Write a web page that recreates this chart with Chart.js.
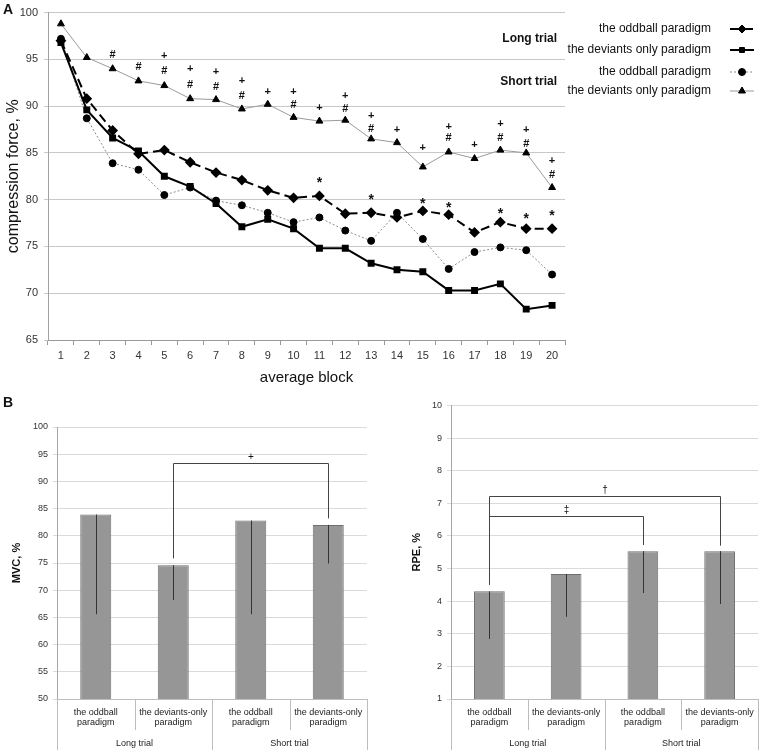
<!DOCTYPE html>
<html>
<head>
<meta charset="utf-8">
<script src="https://cdn.jsdelivr.net/npm/chart.js@4.4.1/dist/chart.umd.min.js"></script>
<style>
body { margin: 0; background: #fff; font-family: "Liberation Sans", Arial, sans-serif; }
#wrap { position: relative; width: 767px; height: 754px; }
canvas { position: absolute; }
.tag { position: absolute; font-weight: bold; font-size: 14px; color: #111; }
</style>
</head>
<body>
<div id="wrap">
  <canvas id="lineChart" width="767" height="395" style="left:0;top:0"></canvas>
  <canvas id="mvcChart" width="383" height="359" style="left:0;top:395px"></canvas>
  <canvas id="rpeChart" width="384" height="359" style="left:383px;top:395px"></canvas>
  <div class="tag" style="left:3px;top:1px">A</div>
  <div class="tag" style="left:3px;top:394px">B</div>
</div>
<script>
// panel A - compression force per block
var blocks = ['1','2','3','4','5','6','7','8','9','10','11','12','13','14','15','16','17','18','19','20'];
var oddballLong   = [97.0, 90.8, 87.4, 84.9, 85.3, 84.0, 82.9, 82.1, 81.0, 80.2, 80.4, 78.5, 78.6, 78.1, 78.8, 78.4, 76.5, 77.6, 76.9, 76.9];
var deviantsLong  = [96.8, 89.6, 86.6, 85.2, 82.5, 81.4, 79.6, 77.1, 77.9, 76.9, 74.8, 74.8, 73.2, 72.5, 72.3, 70.3, 70.3, 71.0, 68.3, 68.7];
var oddballShort  = [97.2, 88.7, 83.9, 83.2, 80.5, 81.3, 79.9, 79.4, 78.6, 77.6, 78.1, 76.7, 75.6, 78.6, 75.8, 72.6, 74.4, 74.9, 74.6, 72.0];
var deviantsShort = [98.8, 95.2, 94.0, 92.7, 92.2, 90.8, 90.7, 89.7, 90.2, 88.8, 88.4, 88.5, 86.5, 86.1, 83.5, 85.1, 84.4, 85.3, 85.0, 81.3];
var forceTicks = [65, 70, 75, 80, 85, 90, 95, 100];

// significance marks: [block, value]
var plusMarks = [[5,95.35],[6,94.0],[7,93.65],[8,92.7],[9,91.55],[10,91.55],[11,89.85],[12,91.1],[13,88.9],[14,87.5],[15,85.5],[16,87.8],[17,85.85],[18,88.1],[19,87.5],[20,84.1]];
var hashMarks = [[3,95.5],[4,94.2],[5,93.75],[6,92.3],[7,92.05],[8,91.1],[10,90.1],[12,89.75],[13,87.6],[16,86.55],[18,86.55],[19,86.0],[20,82.6]];
var starMarks = [[11,82.05],[13,80.3],[15,79.85],[16,79.4],[18,78.75],[19,78.2],[20,78.6]];

// panel B
var conditions = [['the oddball', 'paradigm'], ['the deviants-only', 'paradigm'], ['the oddball', 'paradigm'], ['the deviants-only', 'paradigm']];
var trials = ['Long trial', 'Short trial'];
var mvcMeans = [83.9, 74.6, 82.8, 82.0];
var mvcLow   = [65.6, 68.2, 65.6, 74.9];
var mvcBrackets = [{ from: 1, to: 3, at: 93.4, ends: [75.85, 83.2], mark: '+' }];
var rpeMeans = [4.3, 4.83, 5.53, 5.53];
var rpeLow   = [2.84, 3.52, 4.25, 3.91];
var rpeBrackets = [
  { from: 0, to: 3, at: 7.21, ends: [4.5, 5.7], mark: '\u2020' },
  { from: 0, to: 2, at: 6.61, ends: [4.5, 5.72], mark: '\u2021' }
];

Chart.defaults.font.family = '"Liberation Sans", Arial, sans-serif';
Chart.defaults.color = '#333';
Chart.defaults.animation = false;

var marksPlugin = {
  id: 'marks',
  afterDatasetsDraw: function(chart) {
    var ctx = chart.ctx, x = chart.scales.x, y = chart.scales.y;
    ctx.save();
    ctx.fillStyle = '#111';
    ctx.textAlign = 'center';
    ctx.textBaseline = 'middle';
    function put(list, txt, font, dy) {
      ctx.font = font;
      list.forEach(function(m) {
        ctx.fillText(txt, x.getPixelForValue(m[0] - 1), y.getPixelForValue(m[1]) + dy);
      });
    }
    put(plusMarks, '+', 'bold 11px "Liberation Sans"', 0);
    put(hashMarks, '#', 'bold 11px "Liberation Sans"', 0);
    put(starMarks, '*', 'bold 14px "Liberation Sans"', 3);
    ctx.restore();
  }
};

var sideLegend = {
  id: 'sideLegend',
  afterDraw: function(chart) {
    var ctx = chart.ctx;
    var rows = [29, 50, 72, 91];
    ctx.save();
    ctx.fillStyle = '#111';
    ctx.textBaseline = 'middle';
    ctx.textAlign = 'right';
    ctx.font = 'bold 12px "Liberation Sans"';
    ctx.fillText('Long trial', 557, 39);
    ctx.fillText('Short trial', 557, 82);
    ctx.font = '12px "Liberation Sans"';
    chart.data.datasets.forEach(function(ds, i) {
      var yy = rows[i];
      ctx.fillStyle = '#111';
      ctx.fillText(ds.label, 711, yy);
      ctx.beginPath();
      ctx.strokeStyle = ds.borderColor;
      ctx.lineWidth = ds.borderWidth;
      ctx.setLineDash(ds.borderDash || []);
      ctx.moveTo(730, yy);
      ctx.lineTo(754, yy);
      ctx.stroke();
      ctx.setLineDash([]);
      ctx.fillStyle = '#000';
      ctx.strokeStyle = '#000';
      ctx.lineWidth = 1;
      Chart.helpers.drawPoint(ctx, { pointStyle: ds.pointStyle, radius: ds.pointRadius, rotation: 0, borderWidth: 1 }, 742, yy);
    });
    ctx.restore();
  }
};

new Chart(document.getElementById('lineChart'), {
  type: 'line',
  data: {
    labels: blocks,
    datasets: [{
      label: 'the oddball paradigm',
      data: oddballLong,
      borderColor: '#000',
      borderWidth: 2,
      borderDash: [9, 5],
      pointStyle: 'rectRot',
      pointRadius: 4,
      pointBackgroundColor: '#000',
      pointBorderColor: '#000',
      tension: 0
    }, {
      label: 'the deviants only paradigm',
      data: deviantsLong,
      borderColor: '#000',
      borderWidth: 2,
      pointStyle: 'rect',
      pointRadius: 3.5,
      pointBackgroundColor: '#000',
      pointBorderColor: '#000',
      tension: 0
    }, {
      label: 'the oddball paradigm',
      data: oddballShort,
      borderColor: '#8a8a8a',
      borderWidth: 1,
      borderDash: [2, 2],
      pointStyle: 'circle',
      pointRadius: 3.5,
      pointBackgroundColor: '#000',
      pointBorderColor: '#000',
      tension: 0
    }, {
      label: 'the deviants only paradigm',
      data: deviantsShort,
      borderColor: '#9a9a9a',
      borderWidth: 1,
      pointStyle: 'triangle',
      pointRadius: 4,
      pointBackgroundColor: '#000',
      pointBorderColor: '#000',
      tension: 0
    }]
  },
  options: {
    responsive: false,
    devicePixelRatio: 1,
    layout: { padding: { top: 11, right: 202, left: 0, bottom: 0 } },
    plugins: { legend: { display: false }, tooltip: { enabled: false } },
    scales: {
      x: {
        offset: true,
        afterFit: function(s) { s.height = 55; },
        grid: { offset: true, drawOnChartArea: false, tickLength: 5, color: '#999' },
        border: { color: '#999' },
        ticks: { font: { size: 11 }, padding: 4, maxRotation: 0, autoSkip: false },
        title: { display: true, text: 'average block', font: { size: 15 }, padding: { top: 0, bottom: 8 }, color: '#111' }
      },
      y: {
        min: 65,
        max: 100,
        afterFit: function(s) { s.width = 48; },
        afterBuildTicks: function(s) { s.ticks = forceTicks.map(function(v) { return { value: v }; }); },
        grid: { color: '#c8c8c8', tickLength: 4 },
        border: { color: '#a0a0a0' },
        ticks: { font: { size: 11 }, padding: 6 },
        title: { display: true, text: 'compression force, %', font: { size: 16 }, padding: { top: 4, bottom: 0 }, color: '#111' }
      }
    }
  },
  plugins: [marksPlugin, sideLegend]
});

var whiskers = {
  id: 'whiskers',
  afterDatasetsDraw: function(chart, args, opts) {
    var ctx = chart.ctx, x = chart.scales.x, y = chart.scales.y;
    var means = chart.data.datasets[0].data;
    var half = (x.getPixelForValue(1) - x.getPixelForValue(0)) / 2;
    ctx.save();
    ctx.lineWidth = 1;
    ctx.strokeStyle = '#333';
    opts.low.forEach(function(lo, i) {
      var px = Math.round(x.getPixelForValue(i)) + 0.5;
      ctx.beginPath();
      ctx.moveTo(px, y.getPixelForValue(means[i]));
      ctx.lineTo(px, y.getPixelForValue(lo));
      ctx.stroke();
    });
    ctx.strokeStyle = '#444';
    ctx.fillStyle = '#111';
    ctx.textAlign = 'center';
    ctx.textBaseline = 'bottom';
    ctx.font = '10px "Liberation Sans"';
    opts.brackets.forEach(function(b) {
      var x1 = Math.round(x.getPixelForValue(b.from)) + 0.5;
      var x2 = Math.round(x.getPixelForValue(b.to)) + 0.5;
      var yb = Math.round(y.getPixelForValue(b.at)) + 0.5;
      ctx.beginPath();
      ctx.moveTo(x1, y.getPixelForValue(b.ends[0]));
      ctx.lineTo(x1, yb);
      ctx.lineTo(x2, yb);
      ctx.lineTo(x2, y.getPixelForValue(b.ends[1]));
      ctx.stroke();
      ctx.fillText(b.mark, (x1 + x2) / 2, yb - 1);
    });
    // category separators below the axis
    ctx.strokeStyle = '#bdbdbd';
    var base = chart.chartArea.bottom;
    for (var i = 0; i <= means.length; i++) {
      var bx = Math.round(x.getPixelForValue(0) - half + i * 2 * half) + 0.5;
      ctx.beginPath();
      ctx.moveTo(bx, base);
      ctx.lineTo(bx, base + (i % 2 === 0 ? 51 : 31));
      ctx.stroke();
    }
    ctx.restore();
  }
};

function barChart(id, means, low, brackets, yMin, yMax, step, yTitle, yWidth, titlePad, padTop, padRight) {
  return new Chart(document.getElementById(id), {
    type: 'bar',
    data: {
      labels: conditions,
      datasets: [{
        data: means,
        backgroundColor: '#969696',
        borderColor: '#6f6f6f',
        borderWidth: 1,
        categoryPercentage: 1,
        barPercentage: 0.4
      }]
    },
    options: {
      responsive: false,
      devicePixelRatio: 1,
      layout: { padding: { top: padTop, right: padRight, left: 0, bottom: 0 } },
      plugins: {
        legend: { display: false },
        tooltip: { enabled: false },
        whiskers: { low: low, brackets: brackets }
      },
      scales: {
        x: {
          afterFit: function(s) { s.height = 36; },
          grid: { display: false, drawTicks: false, tickLength: 0 },
          border: { display: true, color: '#bdbdbd' },
          ticks: { font: { size: 9, lineHeight: 1.15 }, padding: 8, maxRotation: 0, autoSkip: false, color: '#222' }
        },
        x2: {
          type: 'category',
          labels: trials,
          position: 'bottom',
          offset: true,
          afterFit: function(s) { s.height = 19; },
          grid: { display: false, drawTicks: false, tickLength: 0 },
          border: { display: false },
          ticks: { font: { size: 9 }, padding: 3, maxRotation: 0, color: '#222' }
        },
        y: {
          min: yMin,
          max: yMax,
          afterFit: function(s) { s.width = yWidth; },
          grid: { color: '#dadada', tickLength: 4 },
          border: { color: '#a6a6a6' },
          ticks: { stepSize: step, font: { size: 9 }, padding: 5, color: '#333' },
          title: { display: true, text: yTitle, font: { size: 11, weight: 'bold' }, padding: { top: titlePad, bottom: 0 }, color: '#111' }
        }
      }
    },
    plugins: [whiskers]
  });
}

barChart('mvcChart', mvcMeans, mvcLow, mvcBrackets, 50, 100, 5, 'MVC, %', 57, 10, 32, 16);
barChart('rpeChart', rpeMeans, rpeLow, rpeBrackets, 1, 10, 1, 'RPE, %', 68, 27, 6, 9);
</script>
</body>
</html>
